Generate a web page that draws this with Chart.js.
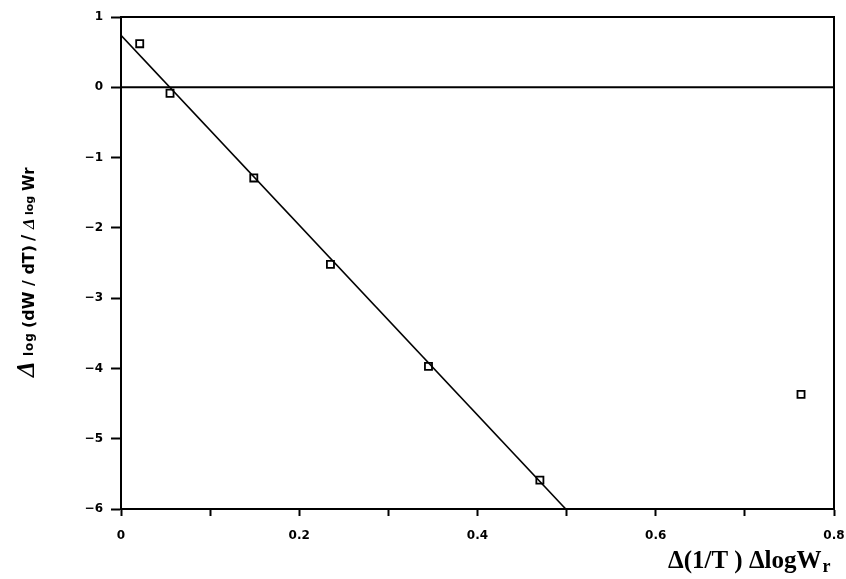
<!DOCTYPE html>
<html>
<head>
<meta charset="utf-8">
<script src="https://cdn.jsdelivr.net/npm/chart.js@4"></script>
<style>
  html, body { margin: 0; padding: 0; background: #fff; }
  #wrap { width: 846px; height: 579px; position: relative; }
</style>
</head>
<body>
<div id="wrap"><canvas id="c" width="846" height="579"></canvas></div>
<script>
// Measured points: x = Δ(1/T)ΔlogWr, y = Δlog(dW/dT)/ΔlogWr
const pointX = [0.021, 0.055, 0.149, 0.235, 0.345, 0.470, 0.763];
const pointY = [0.62, -0.085, -1.29, -2.52, -3.97, -5.59, -4.37];

// Fitted straight line (end points)
const fitX = [0.0, 0.499];
const fitY = [0.74, -6.0];

// Zero reference line
const zeroX = [0.0, 0.8];
const zeroY = [0, 0];

// Axis ticks
const xTicks = [0, 0.2, 0.4, 0.6, 0.8];
const yTicks = [1, 0, -1, -2, -3, -4, -5, -6];

const toXY = (xs, ys) => xs.map((x, i) => ({ x: x, y: ys[i] }));

const tickFont = { family: '"DejaVu Sans", Verdana, sans-serif', size: 12, weight: 'bold' };

// Frame on top/right plus the two axis titles with mixed font sizes
const decorations = {
  id: 'decorations',
  afterDraw(chart) {
    const { ctx, chartArea: a } = chart;
    ctx.save();
    ctx.strokeStyle = '#000';
    ctx.lineWidth = 2;
    ctx.beginPath();
    ctx.moveTo(a.left, a.top);
    ctx.lineTo(a.right, a.top);
    ctx.lineTo(a.right, a.bottom);
    ctx.stroke();

    ctx.fillStyle = '#000';
    ctx.textBaseline = 'alphabetic';

    // X axis title: Δ(1/T) ΔlogW_r
    let x = 668, y = 568;
    ctx.font = 'bold 25px "Liberation Serif", "Times New Roman", serif';
    const main = 'Δ(1/T ) ΔlogW';
    ctx.fillText(main, x, y);
    x += ctx.measureText(main).width + 1;
    ctx.font = 'bold 18px "Liberation Serif", "Times New Roman", serif';
    ctx.fillText('r', x, y + 4);

    // Y axis title (rotated): Δ log (dW/dT) /Δlog Wr
    ctx.translate(34, 377);
    ctx.rotate(-Math.PI / 2);
    const sans = '"DejaVu Sans", Verdana, sans-serif';
    const parts = [
      ['italic bold 25px "Liberation Serif", serif', 'Δ', 0, 0, 0],
      ['bold 12px ' + sans, 'log', 21, -1, 1],
      ['bold 16px ' + sans, '(dW / dT)', 49, 0, 0],
      ['bold 17px ' + sans, '/', 136, 0, 0],
      ['italic bold 17px "Liberation Serif", serif', 'Δ', 148, 0, 0],
      ['bold 11px ' + sans, 'log', 162, -1, 0],
      ['bold 15px ' + sans, 'Wr', 186, 0, 0]
    ];
    parts.forEach(([f, t, px, dy, sp]) => {
      ctx.font = f;
      ctx.letterSpacing = sp + 'px';
      ctx.fillText(t, px, dy);
    });
    ctx.restore();
  }
};

new Chart(document.getElementById('c'), {
  type: 'scatter',
  data: {
    datasets: [
      {
        type: 'line',
        data: toXY(zeroX, zeroY),
        borderColor: '#000',
        borderWidth: 2,
        pointRadius: 0
      },
      {
        type: 'line',
        data: toXY(fitX, fitY),
        borderColor: '#000',
        borderWidth: 1.6,
        pointRadius: 0
      },
      {
        data: toXY(pointX, pointY),
        pointStyle: 'rect',
        pointRadius: 5,
        backgroundColor: '#fff',
        borderColor: '#000',
        borderWidth: 1.8
      }
    ]
  },
  options: {
    responsive: false,
    animation: false,
    layout: { padding: { top: 17, right: 12, left: 0, bottom: 0 } },
    plugins: { legend: { display: false }, tooltip: { enabled: false } },
    scales: {
      x: {
        type: 'linear',
        min: 0,
        max: 0.8,
        afterFit(s) { s.height = 70; s.paddingLeft = 0; s.paddingRight = 0; },
        afterBuildTicks(s) {
          s.ticks = [0, 0.1, 0.2, 0.3, 0.4, 0.5, 0.6, 0.7, 0.8].map(v => ({ value: v }));
        },
        ticks: {
          color: '#000',
          font: tickFont,
          padding: 13,
          maxRotation: 0,
          autoSkip: false,
          callback(v) {
            const r = Math.round(v * 10) / 10;
            return xTicks.some(t => Math.abs(t - r) < 1e-6) ? (r === 0 ? '0' : r.toFixed(1)) : '';
          }
        },
        grid: { drawOnChartArea: false, tickLength: 7, tickColor: '#000', tickWidth: 2 },
        border: { display: true, color: '#000', width: 2 }
      },
      y: {
        type: 'linear',
        min: -6,
        max: 1,
        afterFit(s) { s.width = 121; s.paddingTop = 0; s.paddingBottom = 0; },
        afterBuildTicks(s) { s.ticks = yTicks.map(v => ({ value: v })); },
        ticks: {
          color: '#000',
          font: tickFont,
          padding: 8,
          callback(v) { return v < 0 ? '−' + Math.abs(v) : String(v); }
        },
        grid: { drawOnChartArea: false, tickLength: 10, tickColor: '#000', tickWidth: 2 },
        border: { display: true, color: '#000', width: 2 }
      }
    }
  },
  plugins: [decorations]
});
</script>
</body>
</html>
